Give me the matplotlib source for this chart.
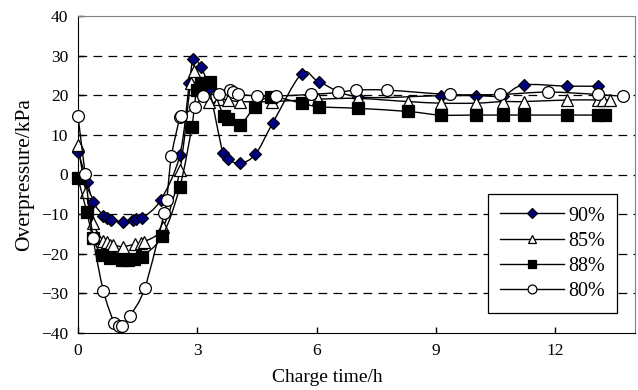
import numpy as np
import matplotlib
matplotlib.use("Agg")
import matplotlib.pyplot as plt
from matplotlib.path import Path
from matplotlib.patches import PathPatch
from matplotlib.lines import Line2D

# datos (tiempo de carga en h, sobrepresion en kPa)
t90 = [0, 0.23, 0.38, 0.64, 0.74, 0.83, 1.12, 1.39, 1.47, 1.62, 2.08, 2.56, 2.80, 2.90, 3.08, 3.30,
       3.64, 3.78, 4.07, 4.46, 4.89, 5.62, 6.06, 7.04, 9.12, 10.0, 10.67, 11.2, 12.28, 13.06]
p90 = [5.8, -1.8, -6.9, -10.4, -10.9, -11.5, -11.9, -11.6, -11.2, -11.0, -6.4, 4.9, 23.2, 29.1, 27.2, 21.5,
       5.5, 3.8, 2.8, 5.1, 12.9, 25.4, 23.4, 19.6, 19.9, 19.9, 19.9, 22.6, 22.3, 22.3]

t85 = [0, 0.2, 0.37, 0.64, 0.72, 0.8, 0.89, 1.12, 1.43, 1.58, 1.66, 2.14, 2.56, 2.83, 2.92, 3.29,
       3.55, 3.78, 4.07, 4.87, 6.04, 7.04, 8.3, 9.12, 10.0, 10.67, 11.2, 12.28, 13.06, 13.2, 13.37]
p85 = [7.4, -4.5, -12.2, -16.8, -17.0, -17.8, -17.8, -18.2, -17.6, -17.4, -17.0, -13.2, 1.1, 23.2, 26.0, 18.4,
       19.0, 18.8, 18.4, 18.4, 19.0, 19.2, 18.4, 18.0, 18.0, 18.4, 18.4, 18.8, 18.8, 18.8, 18.8]

t88 = [0, 0.22, 0.38, 0.6, 0.8, 1.1, 1.26, 1.41, 1.6, 2.12, 2.56, 2.86, 2.98, 3.1, 3.31, 3.66,
       3.78, 4.07, 4.45, 4.84, 5.62, 6.06, 7.04, 8.3, 9.12, 10.0, 10.67, 11.2, 12.28, 13.06, 13.24]
p88 = [-1.0, -9.4, -16.1, -20.4, -21.0, -21.6, -21.6, -21.4, -20.8, -15.5, -3.1, 12.0, 21.3, 23.0, 23.4, 14.8,
       13.9, 12.5, 17.1, 19.6, 18.0, 17.1, 16.7, 15.9, 15.0, 15.0, 15.0, 15.0, 15.0, 15.0, 15.0]

t80 = [0, 0.18, 0.38, 0.64, 0.91, 1.04, 1.1, 1.31, 1.68, 2.17, 2.23, 2.35, 2.56, 2.6, 2.94, 3.15,
       3.55, 3.82, 3.9, 4.03, 4.5, 4.97, 5.85, 6.54, 6.98, 7.76, 9.35, 10.6, 11.81, 13.06, 13.7]
p80 = [14.7, 0.1, -16.0, -29.4, -37.4, -38.3, -38.3, -35.6, -28.6, -9.7, -6.4, 4.7, 14.4, 14.8, 17.1, 19.8,
       20.3, 21.3, 20.9, 20.3, 19.8, 19.8, 20.2, 20.7, 21.3, 21.3, 20.2, 20.2, 20.8, 20.2, 19.7]

etiquetas = ["90%", "85%", "88%", "80%"]

plt.rcParams["font.family"] = "Liberation Serif"
plt.rcParams["font.size"] = 12.5


def curva_suave(x, y):
    # linea suavizada tipo Excel (Catmull-Rom con Bezier cubico)
    pts = np.column_stack([x, y]).astype(float)
    n = len(pts)
    verts = [pts[0]]
    codes = [Path.MOVETO]
    for i in range(n - 1):
        p0 = pts[i - 1] if i > 0 else pts[i]
        p1 = pts[i]
        p2 = pts[i + 1]
        p3 = pts[i + 2] if i + 2 < n else pts[i + 1]
        verts += [p1 + (p2 - p0) / 6, p2 - (p3 - p1) / 6, p2]
        codes += [Path.CURVE4] * 3
    return Path(verts, codes)


fig = plt.figure(figsize=(6.38, 3.9), dpi=100)
ax = fig.add_axes([78 / 638, 57 / 390, 557 / 638, 317 / 390])

estilos = [
    dict(marker="D", ms=6.5, mfc="#000080", mec="black"),
    dict(marker="^", ms=8.5, mfc="white", mec="black"),
    dict(marker="s", ms=8.5, mfc="black", mec="black"),
    dict(marker="o", ms=8.5, mfc="white", mec="black"),
]
series = [(t90, p90), (t85, p85), (t88, p88), (t80, p80)]

handles = []
for k, ((t, p), st) in enumerate(zip(series, estilos)):
    z = 3 + k
    ax.add_patch(PathPatch(curva_suave(t, p), fill=False, edgecolor="black", lw=1.0, zorder=z))
    ax.plot(t, p, linestyle="none", mew=0.9, zorder=z, clip_on=False, **st)
    handles.append(Line2D([], [], color="black", lw=1.0, mew=0.9,
                          marker=st["marker"], ms=st["ms"] * 0.75, mfc=st["mfc"], mec=st["mec"]))

ax.set_xlim(0, 14)
ax.set_ylim(-40, 40)
ax.set_xticks([0, 3, 6, 9, 12])
ax.set_yticks(range(-40, 41, 10))
ax.tick_params(direction="in", length=4, width=1, pad=7)
for y in range(-30, 31, 10):
    ax.axhline(y, color="black", lw=0.9, ls=(0, (7, 5)), zorder=1)

for s in ["top", "right"]:
    ax.spines[s].set_color("#808080")
for s in ["left", "bottom"]:
    ax.spines[s].set_color("black")

ax.set_xlabel("Charge time/h", fontsize=14, labelpad=8)
ax.xaxis.set_label_coords(0.447, -0.115)
ax.set_ylabel("Overpressure/kPa", fontsize=15.5, labelpad=5)

leg = ax.legend(handles, etiquetas, loc="lower right", bbox_to_anchor=(0.968, 0.063),
                borderaxespad=0, fancybox=False, framealpha=1, edgecolor="black", fontsize=14.5,
                handlelength=3.2, handletextpad=0.2, labelspacing=0.3, borderpad=0.6)
leg.get_frame().set_linewidth(0.9)
leg.set_zorder(10)

plt.savefig("out.png", dpi=100)
